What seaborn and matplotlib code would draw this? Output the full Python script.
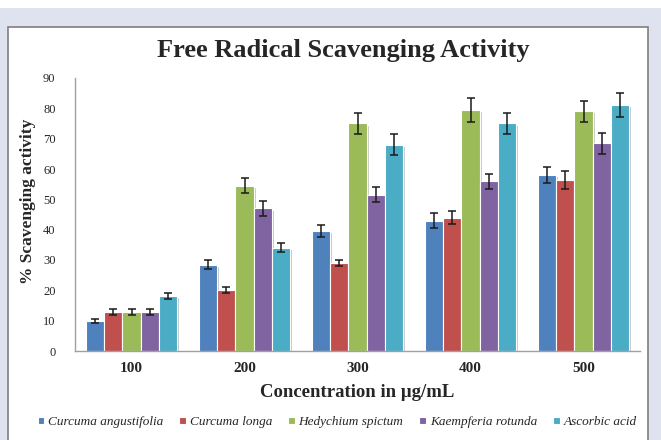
import pandas as pd
import numpy as np
import matplotlib
matplotlib.use("Agg")
import matplotlib.pyplot as plt
import matplotlib.patheffects as pe
from matplotlib.patches import Rectangle
import seaborn as sns

concentrations = ["100", "200", "300", "400", "500"]
species = ["Curcuma angustifolia", "Curcuma longa", "Hedychium spictum",
           "Kaempferia rotunda", "Ascorbic acid"]

curcuma_angustifolia = [10, 28.5, 39.5, 43, 58]
curcuma_longa = [13, 20, 29, 44, 56.5]
hedychium_spictum = [13, 54.5, 75, 79.5, 79]
kaempferia_rotunda = [13, 47, 51.5, 56, 68.5]
ascorbic_acid = [18, 34, 68, 75, 81]

err_ca = [0.7, 1.5, 2, 2.5, 2.5]
err_cl = [1, 1, 1, 2, 3]
err_hs = [1, 2.5, 3.5, 4, 3.5]
err_kr = [1, 2.5, 2.5, 2.5, 3.5]
err_aa = [1, 1.5, 3.5, 3.5, 4]

colors = ["#4f81bd", "#c0504d", "#9bbb59", "#8064a2", "#4bacc6"]

values = [curcuma_angustifolia, curcuma_longa, hedychium_spictum, kaempferia_rotunda, ascorbic_acid]
errors = [err_ca, err_cl, err_hs, err_kr, err_aa]

rows = []
for sp, vals, errs in zip(species, values, errors):
    for c, v, e in zip(concentrations, vals, errs):
        rows.append({"conc": c, "species": sp, "value": v, "err": e})
df = pd.DataFrame(rows)

sns.set_style("white")
plt.rcParams["font.family"] = ["Liberation Serif", "DejaVu Serif"]

fig = plt.figure(figsize=(6.61, 4.40), dpi=100)
fig.patch.set_facecolor("#dfe3f0")
# white strip on top and white chart frame
fig.patches.append(Rectangle((0, 1 - 8 / 440), 1, 8 / 440, transform=fig.transFigure,
                             facecolor="white", edgecolor="none", zorder=-10))
fig.patches.append(Rectangle((8 / 661, -0.01), 640 / 661, 1 - 27 / 440 + 0.01,
                             transform=fig.transFigure, facecolor="white",
                             edgecolor="#7f7f7f", linewidth=1.2, zorder=-10))

ax = fig.add_axes([75 / 661, 1 - 351 / 440, 565 / 661, 273 / 440])
ax.set_facecolor("none")

sns.barplot(data=df, x="conc", y="value", hue="species", palette=colors,
            errorbar=None, width=0.8, edgecolor="white", linewidth=0.8,
            saturation=1, ax=ax, legend=True)

# error bars at the bar centers
for cont, errs in zip(ax.containers, errors):
    xs = [b.get_x() + b.get_width() / 2 for b in cont]
    hs = [b.get_height() for b in cont]
    ax.errorbar(xs, hs, yerr=errs, fmt="none", ecolor="#1a1a1a",
                elinewidth=1.1, capsize=3, capthick=1.1, zorder=5)
    for b in cont:
        b.set_path_effects([pe.SimplePatchShadow(offset=(1.5, -1.5), alpha=0.25),
                            pe.Normal()])

ax.set_ylim(0, 90)
ax.set_yticks(range(0, 91, 10))
ax.set_xlim(-0.5, 4.5)
sns.despine(ax=ax)
for s in ["left", "bottom"]:
    ax.spines[s].set_color("#a0a0a0")
    ax.spines[s].set_linewidth(1.0)
ax.tick_params(axis="y", labelsize=9, length=0, pad=14)
ax.tick_params(axis="x", labelsize=11, length=0, pad=8)
for t in ax.get_xticklabels():
    t.set_fontweight("bold")

ax.set_xlabel("Concentration in μg/mL", fontsize=13.5, fontweight="bold")
ax.xaxis.set_label_coords(0.5, -33 / 273)
ax.set_ylabel("% Scavenging activity", fontsize=12.5, fontweight="bold")
ax.yaxis.set_label_coords(-39 / 565, 0.55)
fig.text(0.52, 1 - 50 / 440, "Free Radical Scavenging Activity", ha="center",
         va="center", fontsize=19, fontweight="bold")

handles, labels = ax.get_legend_handles_labels()
ax.get_legend().remove()
fig.legend(handles, labels, loc="center", bbox_to_anchor=(0.51, 1 - 422 / 440),
           ncol=5, frameon=False, prop={"style": "italic", "size": 9.5},
           handlelength=0.5, handleheight=0.5, handletextpad=0.3, columnspacing=1.2)

fig.savefig("out.png", dpi=100, facecolor=fig.get_facecolor())
